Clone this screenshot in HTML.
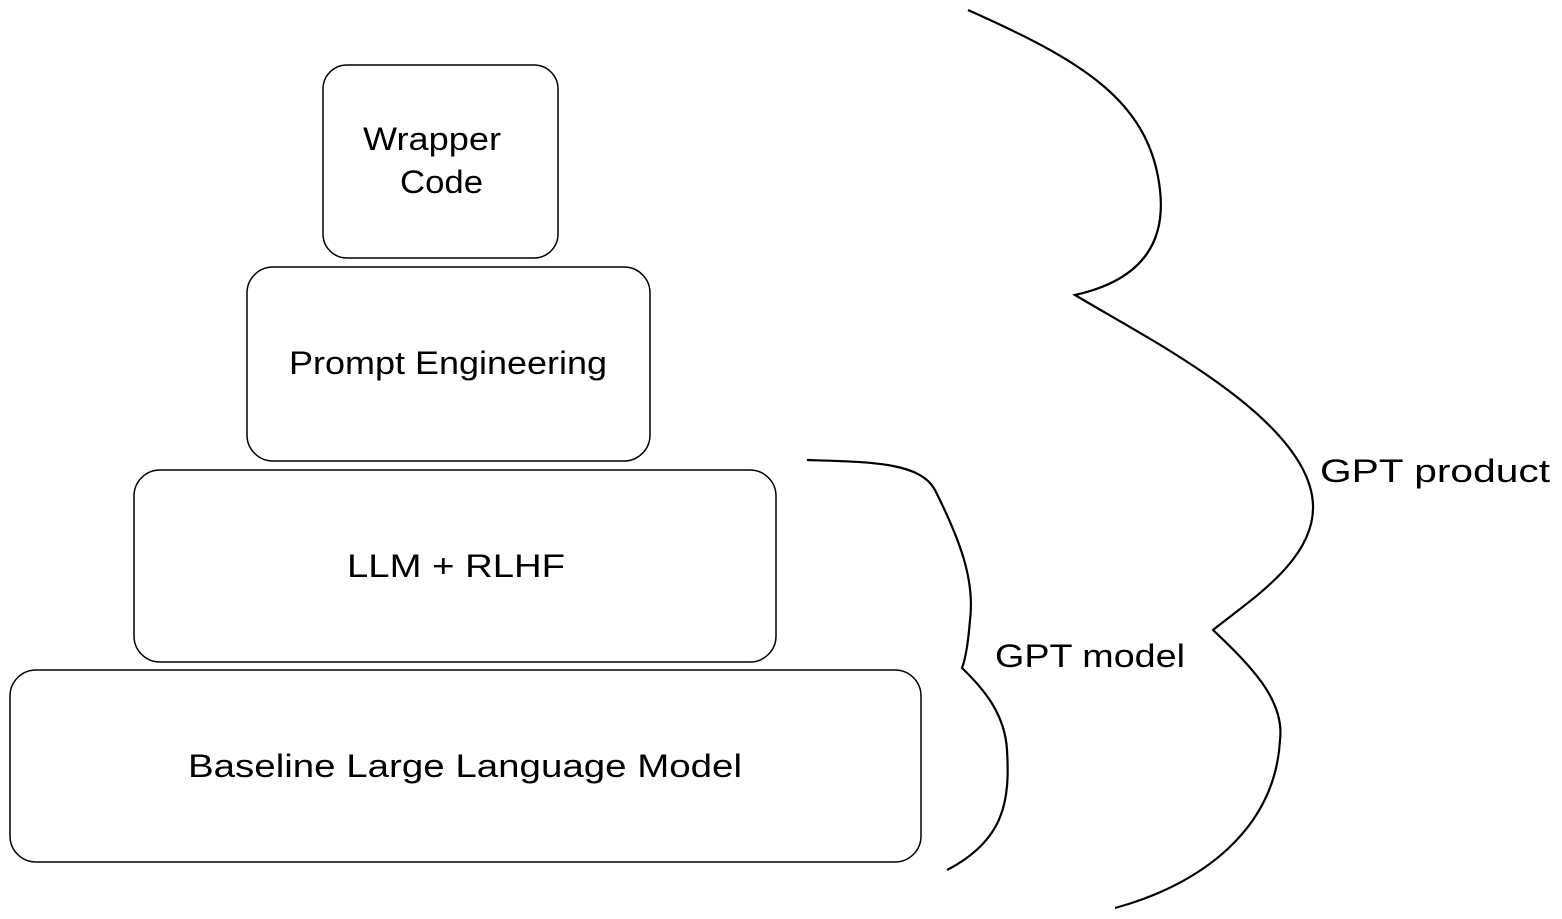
<!DOCTYPE html>
<html><head><meta charset="utf-8"><style>html,body{margin:0;padding:0;background:#fff}svg{display:block}</style></head>
<body>
<svg width="1562" height="919" viewBox="0 0 1562 919" xmlns="http://www.w3.org/2000/svg" font-family="Liberation Sans, sans-serif" fill="none" stroke="#000" stroke-width="1.5">
<rect x="323" y="65" width="235" height="193" rx="24"/>
<rect x="247" y="267" width="403" height="194" rx="26"/>
<rect x="134" y="470" width="642" height="192" rx="26"/>
<rect x="10" y="670" width="911" height="192" rx="26"/>
<path stroke-width="2.2" d="M968 10 C1080 60 1150 100 1160 190 C1168 260 1120 285 1075 295 C1150 340 1310 420 1313 505 C1315 560 1250 600 1213 630 C1250 665 1285 700 1280 740 C1275 830 1200 885 1115 908"/>
<path stroke-width="2.2" d="M807 460 C870 462 920 462 935 490 C960 540 975 580 970 620 C968 645 965 660 962 668 C985 690 1005 715 1007 750 C1010 800 1005 840 947 870"/>
<g fill="#000" stroke="none" font-size="32">
<text x="363" y="150" textLength="138" lengthAdjust="spacingAndGlyphs">Wrapper</text>
<text x="400" y="193" textLength="83" lengthAdjust="spacingAndGlyphs">Code</text>
<text x="289" y="374" textLength="318" lengthAdjust="spacingAndGlyphs">Prompt Engineering</text>
<text x="347" y="577" textLength="218" lengthAdjust="spacingAndGlyphs">LLM + RLHF</text>
<text x="188" y="777" textLength="554" lengthAdjust="spacingAndGlyphs">Baseline Large Language Model</text>
<text x="1320" y="482" textLength="230" lengthAdjust="spacingAndGlyphs">GPT product</text>
<text x="995" y="667" textLength="190" lengthAdjust="spacingAndGlyphs">GPT model</text>
</g>
</svg>
</body></html>
